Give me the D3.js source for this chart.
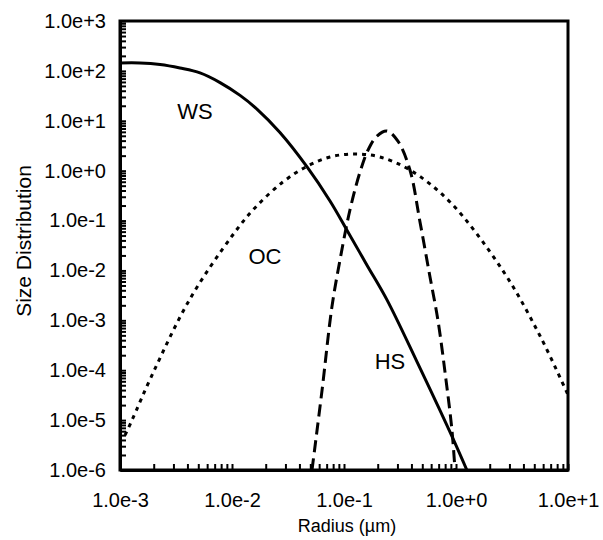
<!DOCTYPE html>
<meta charset="utf-8">
<script src="https://d3js.org/d3.v7.min.js"></script>
<style>
  body { margin: 0; background: #fff; }
  text { font-family: "Liberation Sans", Arial, Helvetica, sans-serif; fill: #000; }
</style>
<div id="chart"></div>
<script>
// tick labels (decades)
var xTicks = [1e-3, 1e-2, 1e-1, 1e0, 1e1];
var yTicks = [1e-6, 1e-5, 1e-4, 1e-3, 1e-2, 1e-1, 1e0, 1e1, 1e2, 1e3];

// WS (solid)
var wsRadius = [1e-3, 1.51e-3, 2.28e-3, 3.43e-3, 5.18e-3, 7.82e-3, 0.0118, 0.0167, 0.0268, 0.0468, 0.075, 0.106, 0.160, 0.242, 0.449, 0.883, 1.25];
var wsValue  = [144, 144, 134, 114, 91, 58.3, 32.3, 17.2, 5.83, 1.19, 0.247, 0.0649, 0.0129, 2.57e-3, 1.47e-4, 5.8e-6, 1e-6];

// OC (dotted)
var ocRadius = [1.11e-3, 1.28e-3, 1.97e-3, 4.22e-3, 0.01, 0.016, 0.0285, 0.0458, 0.075, 0.125, 0.209, 0.388, 0.883, 2.63, 5.62, 10];
var ocValue  = [5.0e-6, 1.0e-5, 8.8e-5, 2.7e-3, 0.049, 0.179, 0.594, 1.19, 1.88, 2.16, 1.88, 1.03, 0.236, 9.8e-3, 4.9e-4, 3.2e-5];

// HS (dashed)
var hsRadius = [0.0518, 0.0637, 0.078, 0.092, 0.113, 0.139, 0.164, 0.197, 0.242, 0.303, 0.388, 0.477, 0.586, 0.69, 0.814, 0.92, 0.98];
var hsValue  = [1e-6, 4.0e-5, 1.86e-3, 0.016, 0.163, 0.94, 2.6, 4.95, 6.25, 3.9, 1.03, 0.094, 7.4e-3, 1.0e-3, 6.4e-5, 6.3e-6, 1e-6];

var series = [
  {name: "WS", r: wsRadius, v: wsValue, dash: null},
  {name: "OC", r: ocRadius, v: ocValue, dash: "4,5"},
  {name: "HS", r: hsRadius, v: hsValue, dash: "12,6"}
];

var W = 603, H = 540;
var pLeft = 120, pRight = 568, pTop = 21, pBottom = 470;

var svg = d3.select("#chart").append("svg")
  .attr("width", W).attr("height", H);

var x = d3.scaleLog().domain([1e-3, 10]).range([pLeft, pRight]);
var y = d3.scaleLog().domain([1e-6, 1e3]).range([pBottom, pTop]);

// minor ticks 2..9 in every decade
function minors(dec) {
  var out = [];
  dec.slice(0, -1).forEach(function(d) {
    for (var k = 2; k <= 9; k++) out.push(d * k);
  });
  return out;
}
var fmt = d3.format(".1e");

svg.append("defs").append("clipPath").attr("id", "clip")
  .append("rect").attr("x", pLeft).attr("y", pTop)
  .attr("width", pRight - pLeft).attr("height", pBottom - pTop);

// bottom axis
var xAxis = svg.append("g")
  .attr("transform", "translate(0," + pBottom + ")")
  .call(d3.axisBottom(x).tickValues(xTicks.concat(minors(xTicks)))
    .tickSizeInner(-6).tickSizeOuter(0).tickPadding(23)
    .tickFormat(function(d) { return xTicks.indexOf(d) >= 0 ? fmt(d) : ""; }));
xAxis.select(".domain").attr("stroke-width", 3);
xAxis.selectAll(".tick line").attr("stroke-width", 2);
xAxis.selectAll("text").style("font-size", "20px");

// left axis
var yAxis = svg.append("g")
  .attr("transform", "translate(" + pLeft + ",0)")
  .call(d3.axisLeft(y).tickValues(yTicks.concat(minors(yTicks)))
    .tickSizeInner(-6).tickSizeOuter(0).tickPadding(14)
    .tickFormat(function(d) { return yTicks.indexOf(d) >= 0 ? fmt(d) : ""; }));
yAxis.select(".domain").attr("stroke-width", 3);
yAxis.selectAll(".tick line").attr("stroke-width", 2);
yAxis.selectAll("text").style("font-size", "20px");

// frame
svg.append("rect")
  .attr("x", pLeft).attr("y", pTop)
  .attr("width", pRight - pLeft).attr("height", pBottom - pTop)
  .attr("fill", "none").attr("stroke", "#000").attr("stroke-width", 3);

// curves
var line = d3.line()
  .x(function(d) { return x(d[0]); })
  .y(function(d) { return y(d[1]); })
  .curve(d3.curveCatmullRom.alpha(0.5));

svg.append("g").attr("clip-path", "url(#clip)")
  .selectAll("path")
  .data(series)
  .enter()
  .append("path")
    .attr("d", function(s) { return line(d3.zip(s.r, s.v)); })
    .attr("fill", "none")
    .attr("stroke", "#000")
    .attr("stroke-width", 3)
    .attr("stroke-dasharray", function(s) { return s.dash; });

// curve labels
svg.append("text").attr("x", 195).attr("y", 119).text("WS").style("font-size", "22px").attr("text-anchor", "middle");
svg.append("text").attr("x", 265).attr("y", 264).text("OC").style("font-size", "22px").attr("text-anchor", "middle");
svg.append("text").attr("x", 390).attr("y", 369).text("HS").style("font-size", "22px").attr("text-anchor", "middle");

// axis titles
svg.append("text").attr("x", 347).attr("y", 532).text("Radius (\u00b5m)").style("font-size", "18px").attr("text-anchor", "middle");
svg.append("text").attr("transform", "translate(31,241)rotate(-90)").text("Size Distribution").style("font-size", "21px").attr("text-anchor", "middle");
</script>
